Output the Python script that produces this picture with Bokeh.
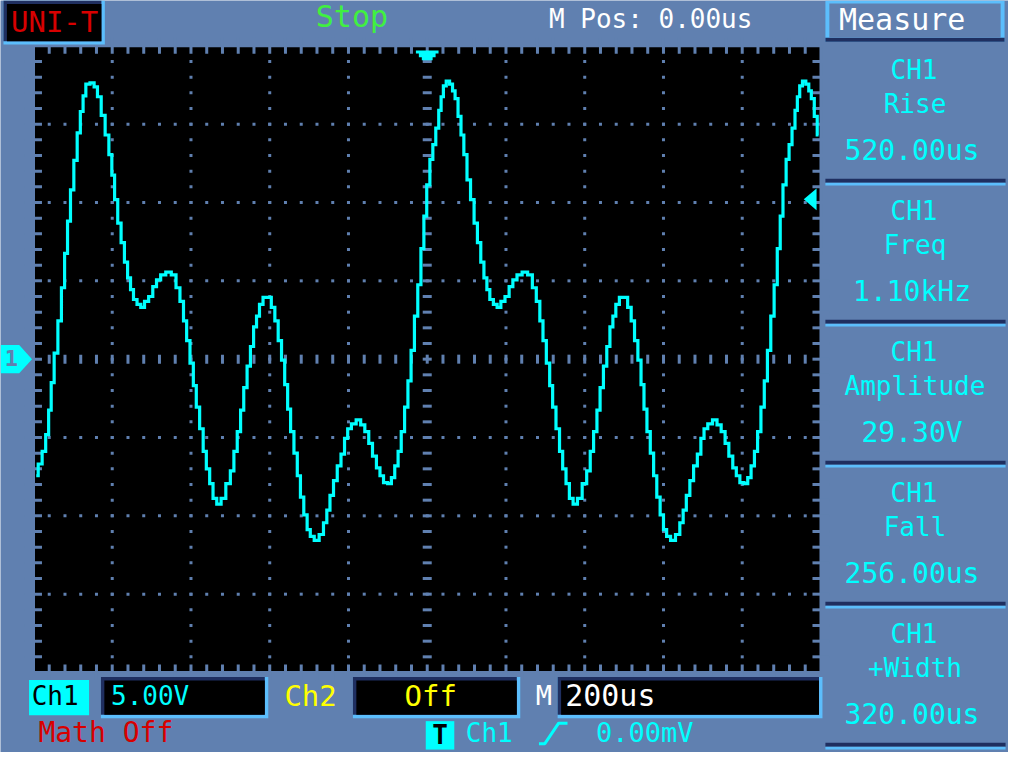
from bokeh.plotting import figure
from bokeh.models import Range1d
from bokeh.embed import file_html
from bokeh.resources import INLINE
from bokeh.core.properties import value

# ---------------- data ----------------
time_us = [
    -993, -983, -973, -965, -958, -952, -943, -933, -925, -917,
    -910, -902, -893, -885, -877, -871, -863, -850, -842, -833,
    -823, -813, -804, -798, -790, -782, -773, -765, -757, -750,
    -742, -732, -723, -713, -702, -692, -683, -671, -657, -643,
    -633, -623, -615, -607, -598, -590, -583, -573, -565, -557,
    -548, -540, -529, -518, -505, -495, -487, -478, -470, -462,
    -453, -445, -437, -430, -422, -412, -401, -391, -383, -374,
    -366, -358, -351, -343, -334, -326, -318, -309, -301, -293,
    -281, -268, -259, -251, -243, -233, -224, -214, -206, -198,
    -187, -174, -164, -153, -144, -134, -124, -116, -106, -95,
    -87, -78, -70, -62, -53, -45, -37, -28, -20, -12,
    -5, 2.5, 11, 17.5, 26, 32.5, 38, 44, 52.5, 61,
    67.5, 74, 82.5, 89, 97, 105, 115, 123, 132, 140,
    148, 155, 163, 173, 182, 192, 203, 213, 222, 234,
    248, 262, 272, 282, 290, 298, 307, 315, 322, 332,
    340, 348, 357, 365, 376, 387, 400, 410, 418, 427,
    435, 443, 452, 460, 468, 475, 483, 493, 504, 514,
    522, 531, 539, 547, 554, 562, 571, 579, 587, 596,
    604, 612, 624, 637, 646, 654, 662, 672, 681, 691,
    699, 707, 718, 731, 741, 752, 761, 771, 781, 789,
    799, 810, 818, 827, 835, 843, 852, 860, 868, 877,
    885, 893, 900, 907, 916, 922, 931, 937, 943, 949,
    957, 966, 972, 979, 987, 994,
]
ch1_volts = [
    -7.44, -6.69, -5.88, -4.81, -3.25, -1.50, 0.38, 2.44, 4.56, 6.75,
    8.81, 10.81, 12.69, 14.44, 15.81, 16.81, 17.56, 17.63, 17.38, 16.75,
    15.56, 14.31, 13.06, 11.75, 10.19, 8.69, 7.44, 6.19, 5.19, 4.44,
    3.81, 3.50, 3.31, 3.69, 4.00, 4.63, 5.06, 5.38, 5.56, 5.38,
    4.56, 3.69, 2.44, 1.19, -0.25, -1.69, -3.06, -4.44, -5.88, -7.00,
    -7.94, -8.88, -9.25, -8.88, -7.94, -7.13, -5.88, -4.63, -3.25, -1.81,
    -0.44, 0.81, 2.06, 2.75, 3.50, 3.94, 3.94, 3.31, 2.44, 1.19,
    -0.06, -1.63, -3.19, -4.63, -6.00, -7.44, -8.81, -9.94, -10.88, -11.31,
    -11.56, -11.19, -10.44, -9.63, -8.69, -7.75, -6.81, -6.06, -5.06, -4.44,
    -4.13, -3.88, -4.19, -4.63, -5.38, -6.19, -6.94, -7.44, -7.88, -7.94,
    -7.56, -6.81, -5.88, -4.63, -3.06, -1.38, 0.56, 2.75, 4.75, 7.06,
    9.13, 11.13, 12.75, 13.69, 14.75, 15.88, 16.75, 17.44, 17.75, 17.56,
    17.13, 16.63, 15.50, 14.31, 13.06, 11.44, 10.19, 8.69, 7.44, 6.19,
    5.19, 4.44, 3.81, 3.50, 3.31, 3.69, 4.00, 4.63, 5.06, 5.38,
    5.56, 5.38, 4.56, 3.69, 2.44, 1.19, -0.25, -1.69, -3.06, -4.44,
    -5.88, -7.00, -7.94, -8.88, -9.25, -8.88, -7.94, -7.13, -5.88, -4.63,
    -3.25, -1.81, -0.44, 0.81, 2.06, 2.75, 3.50, 3.94, 3.94, 3.31,
    2.44, 1.19, -0.06, -1.63, -3.19, -4.63, -6.00, -7.44, -8.81, -9.94,
    -10.88, -11.31, -11.56, -11.19, -10.44, -9.63, -8.69, -7.75, -6.81, -6.06,
    -5.06, -4.44, -4.13, -3.88, -4.19, -4.63, -5.38, -6.19, -6.94, -7.44,
    -7.88, -7.94, -7.56, -6.81, -5.88, -4.63, -3.06, -1.38, 0.56, 2.75,
    4.75, 7.06, 9.13, 11.13, 12.75, 13.69, 14.75, 15.88, 16.75, 17.44,
    17.75, 17.56, 17.13, 16.63, 15.50, 14.31,
]
assert len(time_us) == len(ch1_volts)

time_per_div_us = 200
volts_per_div = 5
divisions_x = 10
divisions_y = 8
minor_per_div = 5
trigger_time_us = 0.0
trigger_marker_volts = 10.2

brand = "UNI-T"
run_state = "Stop"
m_pos_text = "M Pos: 0.00us"
menu_title = "Measure"
measure_channels = ["CH1", "CH1", "CH1", "CH1", "CH1"]
measure_names = ["Rise", "Freq", "Amplitude", "Fall", "+Width"]
measure_values = ["520.00us", "1.10kHz", "29.30V", "256.00us", "320.00us"]
ch1_label = "Ch1"
ch1_scale = "5.00V"
ch2_label = "Ch2"
ch2_state = "Off"
timebase_label = "M"
timebase_value = "200us"
math_state = "Math Off"
trigger_source = "Ch1"
trigger_level = "0.00mV"

# ---------------- styling ----------------
BG = "#6080B0"
LIGHT = "#5CBEFC"
DARK = "#1F2F60"
CYAN = "#00FFFF"
RED = "#D80000"
GREEN = "#40F040"
YELLOW = "#FFFF00"
WHITE = "#FFFFFF"
FONT = "DejaVu Sans Mono"

REF_W, REF_H = 1024, 768          # layout units (screen pixels of the scope)
W, H = 1008, 752                  # output size
CX, CY = 433.5, 366.3             # graticule centre in layout units
DIV = 80.0                        # layout units per division
US_PER_UNIT = time_per_div_us / DIV
V_PER_UNIT = volts_per_div / DIV

p = figure(width=W, height=H, x_range=Range1d(0, REF_W), y_range=Range1d(REF_H, 0),
           x_axis_type=None, y_axis_type=None, output_backend="svg",
           toolbar_location=None, min_border=0, background_fill_color=BG,
           border_fill_color=BG, outline_line_color=None)
p.grid.visible = False
p.extra_x_ranges = {"t": Range1d(-CX * US_PER_UNIT, (REF_W - CX) * US_PER_UNIT)}
p.extra_y_ranges = {"v": Range1d((CY - REF_H) * V_PER_UNIT, CY * V_PER_UNIT)}
TV = dict(x_range_name="t", y_range_name="v")


def tx(t):
    return CX + t / US_PER_UNIT


def vy(v):
    return CY - v / V_PER_UNIT


# ---------------- graticule ----------------
t_half = time_per_div_us * divisions_x / 2
v_half = volts_per_div * divisions_y / 2
t_minor = time_per_div_us / minor_per_div
v_minor = volts_per_div / minor_per_div
n_tm = int(round(2 * t_half / t_minor))
n_vm = int(round(2 * v_half / v_minor))
t_minor_pos = [-t_half + i * t_minor for i in range(1, n_tm)]
v_minor_pos = [-v_half + i * v_minor for i in range(1, n_vm)]
t_major = [-t_half + i * time_per_div_us for i in range(1, divisions_x) if i != divisions_x // 2]
v_major = [-v_half + i * volts_per_div for i in range(1, divisions_y) if i != divisions_y // 2]

p.quad(left=[-t_half], right=[t_half], bottom=[-v_half], top=[v_half],
       fill_color="black", line_color=BG, line_width=3, **TV)

dx, dy = [], []
for t in t_major:
    for v in v_minor_pos:
        dx.append(t); dy.append(v)
for v in v_major:
    for t in t_minor_pos:
        dx.append(t); dy.append(v)
p.rect(x=dx, y=dy, width=3, height=3, width_units="screen", height_units="screen",
       fill_color=BG, line_color=None, **TV)

# centre axes with minor ticks
p.rect(x=[0] * len(v_minor_pos), y=v_minor_pos, width=9, height=3,
       width_units="screen", height_units="screen", fill_color=BG, line_color=None, **TV)
p.rect(x=t_minor_pos, y=[0] * len(t_minor_pos), width=3, height=9,
       width_units="screen", height_units="screen", fill_color=BG, line_color=None, **TV)
# edge ticks
for xe in (-t_half, t_half):
    p.rect(x=[xe] * len(v_minor_pos), y=v_minor_pos, width=17, height=3,
           width_units="screen", height_units="screen", fill_color=BG, line_color=None, **TV)
for ye in (-v_half, v_half):
    p.rect(x=t_minor_pos, y=[ye] * len(t_minor_pos), width=3, height=16,
           width_units="screen", height_units="screen", fill_color=BG, line_color=None, **TV)

# ---------------- waveform ----------------
p.step(x=time_us, y=ch1_volts, mode="center", line_color=CYAN, line_width=3.2,
       line_join="miter", **TV)

# ---------------- markers ----------------
mx = tx(trigger_time_us)
p.patch(x=[mx + d for d in (-11.5, 11.5, 11.5, 8.5, 8.5, 5.5, 5.5, -5.5, -5.5, -8.5, -8.5, -11.5)],
        y=[51, 51, 54, 54, 58, 58, 61, 61, 58, 58, 54, 54],
        fill_color=CYAN, line_color=None)
my = vy(0)
p.patch(x=[0, 19, 32, 19, 0], y=[my - 14.5, my - 14.5, my, my + 14.5, my + 14.5],
        fill_color=CYAN, line_color=None)
ty = vy(trigger_marker_volts)
p.patch(x=[816, 829, 829], y=[ty, ty - 11, ty + 11], fill_color=CYAN, line_color=None)


# ---------------- UI helpers ----------------
def box(l, r, t, b, tl, br, fill, bw=3.5):
    p.quad(left=[l], right=[r], top=[t], bottom=[b], fill_color=br, line_color=None)
    p.quad(left=[l], right=[r - bw], top=[t], bottom=[b - bw], fill_color=tl, line_color=None)
    p.quad(left=[l + bw], right=[r - bw], top=[t + bw], bottom=[b - bw], fill_color=fill, line_color=None)


def label(x, yc, s, color, size, align="center", bold=False):
    # yc: vertical centre of the capitals, in layout units
    p.text(x=[x], y=[yc], text=[s], text_color=color, text_font=value(FONT),
           text_font_size=f"{size}px", text_align=align, text_baseline="alphabetic",
           text_font_style="bold" if bold else "normal")


# "1" inside channel marker
label(11, my - 1, "1", BG, 22, bold=True)

# top bar
box(3, 106, 0, 45, DARK, LIGHT, "black")
label(55, 22, brand, RED, 29)
label(357, 16, run_state, GREEN, 30)
label(660.5, 19, m_pos_text, WHITE, 26)

# Measure menu
p.quad(left=[838], right=[1020], top=[0], bottom=[42], fill_color=LIGHT, line_color=None)
p.quad(left=[838], right=[1020], top=[38], bottom=[42], fill_color=DARK, line_color=None)
p.quad(left=[842], right=[1016], top=[3], bottom=[38], fill_color=BG, line_color=None)
label(916, 19, menu_title, WHITE, 30)

SECTION = 144
for k in range(5):
    y0 = 182 + k * SECTION
    p.quad(left=[838], right=[1021], top=[y0], bottom=[y0 + 4], fill_color=DARK, line_color=None)
    p.quad(left=[838], right=[1021], top=[y0 + 4], bottom=[y0 + 7], fill_color=LIGHT, line_color=None)
    label(928, 70.5 + k * SECTION, measure_channels[k], CYAN, 26)
    label(929, 105.5 + k * SECTION, measure_names[k], CYAN, 26)
    label(926, 153.5 + k * SECTION, measure_values[k], CYAN, 28)

# bottom bar
p.quad(left=[29], right=[90], top=[694], bottom=[730], fill_color=CYAN, line_color=None)
label(55.5, 710, ch1_label, "black", 26)
box(102, 272, 691, 733, DARK, LIGHT, "black")
label(152, 710, ch1_scale, CYAN, 26)
label(315, 710, ch2_label, YELLOW, 29)
box(358, 528, 691, 733, DARK, LIGHT, "black")
label(437, 710, ch2_state, YELLOW, 29)
label(552, 710, timebase_label, WHITE, 27)
box(566, 835, 691, 733, DARK, LIGHT, "black")
label(619.5, 710, timebase_value, WHITE, 30)

label(107, 748, math_state, RED, 28)
p.quad(left=[432], right=[461], top=[736], bottom=[765], fill_color=CYAN, line_color=None)
label(446.5, 750.5, "T", "black", 26, bold=True)
label(496.5, 748, trigger_source, CYAN, 26)
p.line(x=[547, 553, 567, 576], y=[759, 759, 738, 738], line_color=CYAN, line_width=3)
label(654.5, 748, trigger_level, CYAN, 27)

open("out.html", "w").write(file_html(p, INLINE))
